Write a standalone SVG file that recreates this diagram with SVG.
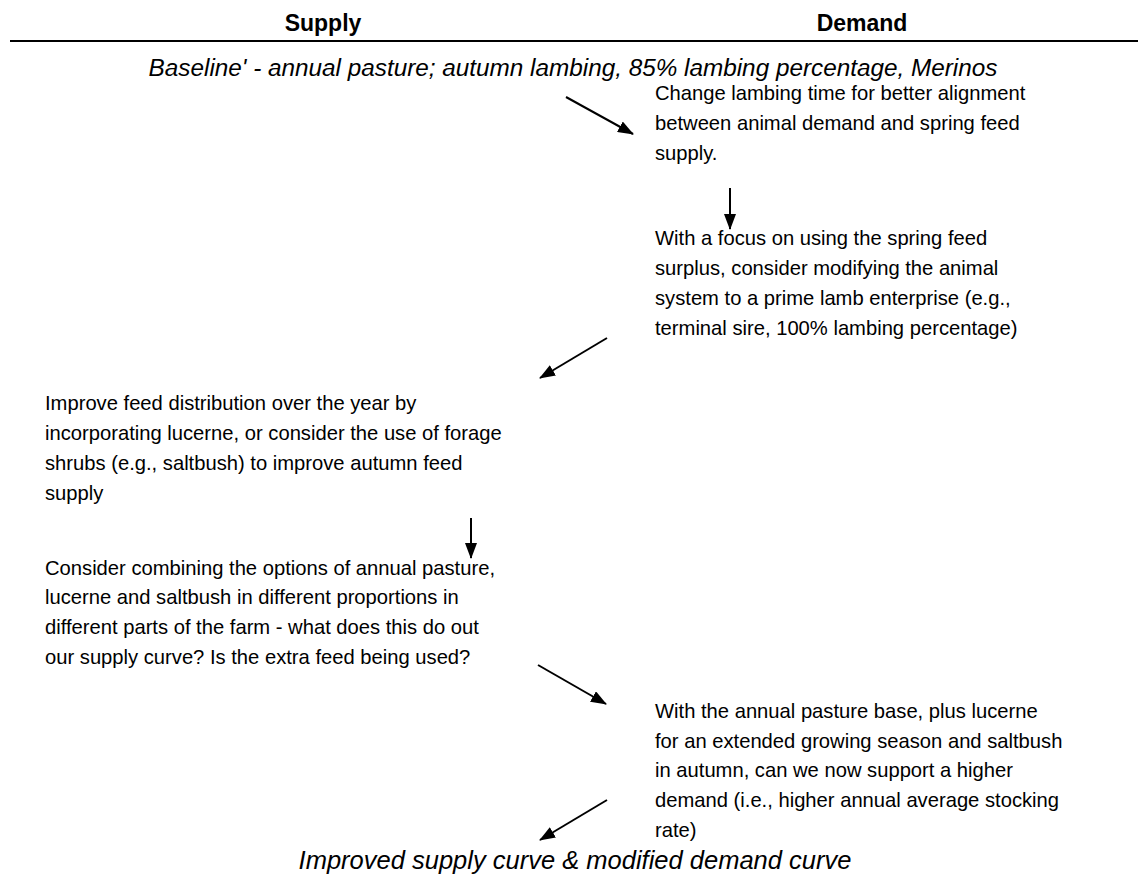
<svg xmlns="http://www.w3.org/2000/svg" width="1139" height="875" viewBox="0 0 1139 875">
<style>
.t{font-family:"Liberation Sans",Arial,sans-serif;font-size:20.2px;fill:#000}
.i{font-family:"Liberation Sans",Arial,sans-serif;font-size:24.3px;font-style:italic;fill:#000}
.h{font-family:"Liberation Sans",Arial,sans-serif;font-size:23px;font-weight:bold;fill:#000}
.c{stroke:#000;stroke-width:2;fill:none;marker-end:url(#ah)}
</style>
<defs>
<marker id="ah" viewBox="0 0 16 12" refX="15" refY="6" markerWidth="16" markerHeight="12" markerUnits="userSpaceOnUse" orient="auto">
<path d="M0,0 L16,6 L0,12 z" fill="#000"/>
</marker>
</defs>
<rect width="1139" height="875" fill="#fff"/>
<g id="header">
<text class="h" x="323" y="31" text-anchor="middle">Supply</text>
<text class="h" x="862" y="31" text-anchor="middle">Demand</text>
<line x1="10" y1="41" x2="1138" y2="41" stroke="#000" stroke-width="2"/>
</g>
<g id="baseline">
<text class="i" x="573" y="76" text-anchor="middle">Baseline' - annual pasture; autumn lambing, 85% lambing percentage, Merinos</text>
</g>
<g id="lambing-time">
<text class="t" x="655" y="100">Change lambing time for better alignment</text>
<text class="t" x="655" y="130">between animal demand and spring feed</text>
<text class="t" x="655" y="160">supply.</text>
</g>
<g id="prime-lamb">
<text class="t" x="655" y="245">With a focus on using the spring feed</text>
<text class="t" x="655" y="275">surplus, consider modifying the animal</text>
<text class="t" x="655" y="305">system to a prime lamb enterprise (e.g.,</text>
<text class="t" x="655" y="335">terminal sire, 100% lambing percentage)</text>
</g>
<g id="feed-distribution">
<text class="t" x="45" y="410">Improve feed distribution over the year by</text>
<text class="t" x="45" y="440">incorporating lucerne, or consider the use of forage</text>
<text class="t" x="45" y="470">shrubs (e.g., saltbush) to improve autumn feed</text>
<text class="t" x="45" y="500">supply</text>
</g>
<g id="combining">
<text class="t" x="45" y="575">Consider combining the options of annual pasture,</text>
<text class="t" x="45" y="604">lucerne and saltbush in different proportions in</text>
<text class="t" x="45" y="634">different parts of the farm - what does this do out</text>
<text class="t" x="45" y="664">our supply curve? Is the extra feed being used?</text>
</g>
<g id="higher-demand">
<text class="t" x="655" y="718">With the annual pasture base, plus lucerne</text>
<text class="t" x="655" y="748">for an extended growing season and saltbush</text>
<text class="t" x="655" y="777">in autumn, can we now support a higher</text>
<text class="t" x="655" y="807">demand (i.e., higher annual average stocking</text>
<text class="t" x="655" y="837">rate)</text>
</g>
<g id="result">
<text class="i" x="575" y="869" text-anchor="middle" style="font-size:25.5px">Improved supply curve &amp; modified demand curve</text>
</g>
<g id="connectors">
<line class="c" x1="566" y1="97" x2="633" y2="134"/>
<line class="c" x1="730" y1="188" x2="730" y2="229"/>
<line class="c" x1="607" y1="338" x2="540" y2="378"/>
<line class="c" x1="471" y1="518" x2="471" y2="558"/>
<line class="c" x1="538" y1="665" x2="606" y2="704"/>
<line class="c" x1="607" y1="800" x2="540" y2="840"/>
</g>
</svg>
